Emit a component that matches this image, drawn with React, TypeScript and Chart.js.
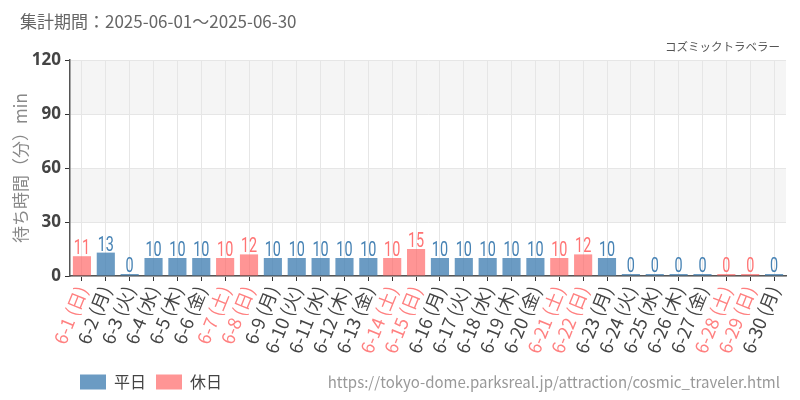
import { useEffect, useRef } from "react"
import { Chart, registerables } from "chart.js"

Chart.register(...registerables)

// 集計期間 2025-06
const dates = [
  "6-1 (日)", "6-2 (月)", "6-3 (火)", "6-4 (水)", "6-5 (木)", "6-6 (金)", "6-7 (土)",
  "6-8 (日)", "6-9 (月)", "6-10 (火)", "6-11 (水)", "6-12 (木)", "6-13 (金)", "6-14 (土)",
  "6-15 (日)", "6-16 (月)", "6-17 (火)", "6-18 (水)", "6-19 (木)", "6-20 (金)", "6-21 (土)",
  "6-22 (日)", "6-23 (月)", "6-24 (火)", "6-25 (水)", "6-26 (木)", "6-27 (金)", "6-28 (土)",
  "6-29 (日)", "6-30 (月)",
]
const waitMinutes = [
  11, 13, 0, 10, 10, 10, 10,
  12, 10, 10, 10, 10, 10, 10,
  15, 10, 10, 10, 10, 10, 10,
  12, 10, 0, 0, 0, 0, 0,
  0, 0,
]
const isHoliday = [
  true, false, false, false, false, false, true,
  true, false, false, false, false, false, true,
  true, false, false, false, false, false, true,
  true, false, false, false, false, false, true,
  true, false,
]
const yTicks = [0, 30, 60, 90, 120]

const BLUE_BAR = "rgba(70, 130, 180, 0.8)"
const BLUE_TEXT = "#4682b4"
const RED_BAR = "rgba(255, 99, 99, 0.68)"
const RED_TEXT = "#ff7373"
const JP_FONT = "'Noto Sans CJK JP', 'Noto Sans', sans-serif"

const bandsPlugin = {
  id: "bands",
  beforeDraw(chart: any) {
    const { ctx, chartArea, scales } = chart
    const y = scales.y
    ctx.save()
    ctx.fillStyle = "#f5f5f5"
    for (const [lo, hi] of [[30, 60], [90, 120]]) {
      const top = y.getPixelForValue(hi)
      const bottom = y.getPixelForValue(lo)
      ctx.fillRect(chartArea.left, top, chartArea.right - chartArea.left, bottom - top)
    }
    ctx.restore()
  },
}

// values above bars, squeezed to look like a condensed face
const valueLabelPlugin = {
  id: "valueLabels",
  afterDatasetsDraw(chart: any) {
    const { ctx } = chart
    chart.data.datasets.forEach((ds: any, di: number) => {
      const meta = chart.getDatasetMeta(di)
      meta.data.forEach((bar: any, i: number) => {
        const v = ds.data[i]
        if (v === null || v === undefined) return
        ctx.save()
        ctx.font = `20px 'Roboto', ${JP_FONT}`
        ctx.fillStyle = di === 0 ? BLUE_TEXT : RED_TEXT
        ctx.textAlign = "center"
        ctx.textBaseline = "alphabetic"
        ctx.translate(bar.x, bar.y - 2)
        ctx.scale(0.72, 1)
        ctx.fillText(String(v), 0, 0)
        ctx.restore()
      })
    })
  },
}

const textPlugin = {
  id: "extraText",
  afterDraw(chart: any) {
    const { ctx } = chart
    ctx.save()
    ctx.textBaseline = "middle"
    ctx.fillStyle = "#666"
    ctx.font = `17px ${JP_FONT}`
    ctx.textAlign = "left"
    ctx.fillText("集計期間：2025-06-01～2025-06-30", 20, 22)
    ctx.fillStyle = "#555"
    ctx.font = `11.5px ${JP_FONT}`
    ctx.textAlign = "right"
    ctx.fillText("コズミックトラベラー", 780, 47)
    ctx.fillStyle = "#999"
    ctx.font = `15px ${JP_FONT}`
    ctx.fillText("https://tokyo-dome.parksreal.jp/attraction/cosmic_traveler.html", 780, 382)
    ctx.restore()
  },
}

export default function App() {
  const chartRef = useRef<HTMLCanvasElement>(null)
  const chartInstance = useRef<Chart | null>(null)

  useEffect(() => {
    if (!chartRef.current) return
    if (chartInstance.current) chartInstance.current.destroy()
    const ctx = chartRef.current.getContext("2d")
    if (!ctx) return

    const weekdayData = waitMinutes.map((v, i) => (isHoliday[i] ? null : v))
    const holidayData = waitMinutes.map((v, i) => (isHoliday[i] ? v : null))

    chartInstance.current = new Chart(ctx, {
      type: "bar",
      data: {
        labels: dates,
        datasets: [
          {
            label: "平日",
            data: weekdayData,
            backgroundColor: BLUE_BAR,
            minBarLength: 2,
            categoryPercentage: 0.8,
            barPercentage: 0.95,
          },
          {
            label: "休日",
            data: holidayData,
            backgroundColor: RED_BAR,
            minBarLength: 2,
            categoryPercentage: 0.8,
            barPercentage: 0.95,
          },
        ],
      },
      plugins: [bandsPlugin, valueLabelPlugin, textPlugin],
      options: {
        responsive: false,
        animation: false,
        layout: { padding: { top: 60, right: 14, left: 10, bottom: 0 } },
        plugins: {
          legend: {
            position: "bottom",
            align: "start",
            fullSize: false,
            labels: {
              boxWidth: 26,
              boxHeight: 15,
              padding: 10,
              color: "#444",
              font: { size: 16, family: JP_FONT },
            },
          },
          tooltip: { enabled: false },
        },
        scales: {
          x: {
            stacked: true,
            grid: { color: "#e6e6e6", offset: false, tickColor: "#333", tickLength: 5 },
            border: { color: "#555", width: 1.5 },
            ticks: {
              autoSkip: false,
              minRotation: 68,
              maxRotation: 68,
              padding: 2,
              color: (c: any) => (isHoliday[c.index] ? "#ff8080" : "#444"),
              font: { size: 18, family: JP_FONT },
            },
            afterFit: (scale: any) => {
              scale.height = 88
            },
          },
          y: {
            stacked: true,
            min: 0,
            max: 120,
            afterBuildTicks: (scale: any) => {
              scale.ticks = yTicks.map((v) => ({ value: v }))
            },
            grid: { color: "#e6e6e6", tickColor: "#333", tickLength: 5 },
            border: { color: "#555", width: 1.5 },
            ticks: {
              color: "#444",
              padding: 4,
              font: { size: 17, weight: "bold", family: "'Open Sans', sans-serif" },
            },
            title: {
              display: true,
              text: "待ち時間（分）min",
              color: "#888",
              font: { size: 17, family: JP_FONT },
              padding: 0,
            },
            afterFit: (scale: any) => {
              scale.width = 60
            },
          },
        },
      },
    } as any)

    return () => {
      if (chartInstance.current) {
        chartInstance.current.destroy()
        chartInstance.current = null
      }
    }
  }, [])

  return (
    <div style={{ position: "fixed", left: 0, top: 0, width: 800, height: 400, background: "#fff" }}>
      <canvas ref={chartRef} width={800} height={400} />
    </div>
  )
}
